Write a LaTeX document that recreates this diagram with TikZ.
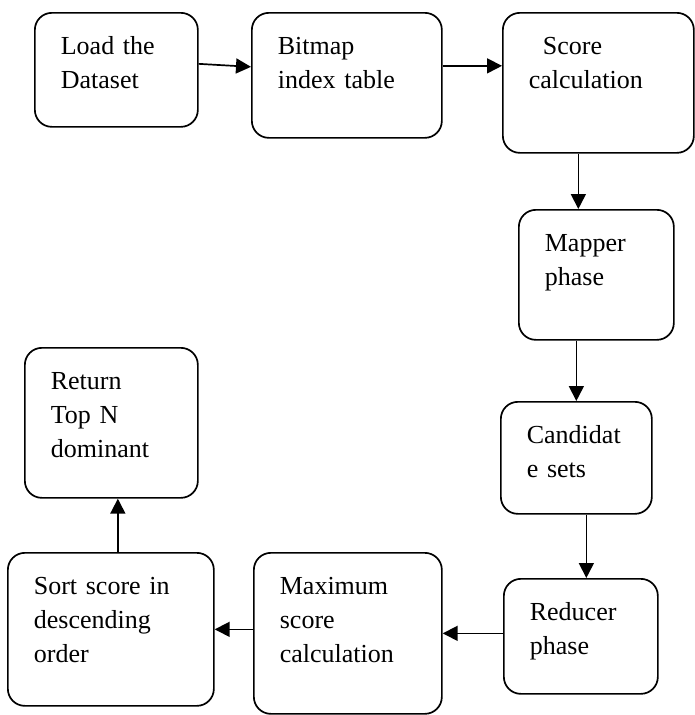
\documentclass[tikz,border=0pt]{standalone}
\usepackage{fontspec}
\setmainfont{Liberation Serif}
\usetikzlibrary{arrows.meta}

\begin{document}
\begin{tikzpicture}[
	x = 1pt, y = -1pt,
	box/.style = {draw, line width = 1.7pt, rounded corners = 17pt, anchor = north west,
		inner xsep = 26pt, inner ysep = 0pt, align = left, text height = 42pt,
		font = \fontsize{26pt}{34pt}\selectfont},
	flow/.style = {line width = 1.7pt, -{Triangle[length = 15pt, width = 15pt]}}
	]
	\useasboundingbox (0,0) rectangle (694,715);
	\node[box, text width = 111pt, text depth = 72pt] (load) at (34,12) {Load the\\Dataset};
	\node[box, text width = 138pt, text depth = 83pt] (bitmap) at (251,12) {Bitmap\\index table};
	\node[box, text width = 139pt, text depth = 98pt] (score) at (502,12) {\hspace*{14pt}Score\\calculation};
	\node[box, text width = 103pt, text depth = 88pt] (mapper) at (518,209) {Mapper\\phase};
	\node[box, text width = 99pt, text depth = 70pt] (candidate) at (500,401) {Candidat\\e sets};
	\node[box, text width = 102pt, text depth = 73pt] (reducer) at (503,578) {Reducer\\phase};
	\node[box, text width = 136pt, text depth = 119pt] (maximum) at (253,552) {Maximum\\score\\calculation};
	\node[box, text width = 154pt, text depth = 111pt] (sort) at (7,552) {Sort score in\\descending\\order};
	\node[box, text width = 121pt, text depth = 108pt] (return) at (24,347) {Return\\Top N\\dominant};

	\draw[flow] ([yshift = 6pt]load.east) -- ([yshift = 8.5pt]bitmap.west);
	\draw[flow] ([yshift = 9.5pt]bitmap.east) -- ([yshift = 17pt]score.west);
	\draw[flow] ([xshift = -20pt]score.south) -- ([xshift = -20pt]score.south |- mapper.north);
	\draw[flow] (candidate.north |- mapper.south) -- (candidate.north);
	\draw[flow] ([xshift = 10pt]candidate.south) -- ([xshift = 10pt]candidate.south |- reducer.north);
	\draw[flow] (reducer.west |- maximum.east) -- (maximum.east);
	\draw[flow] (maximum.west |- sort.east) -- (sort.east);
	\draw[flow] ([xshift = 7pt]sort.north) -- ([xshift = 7pt]sort.north |- return.south);
\end{tikzpicture}
\end{document}
